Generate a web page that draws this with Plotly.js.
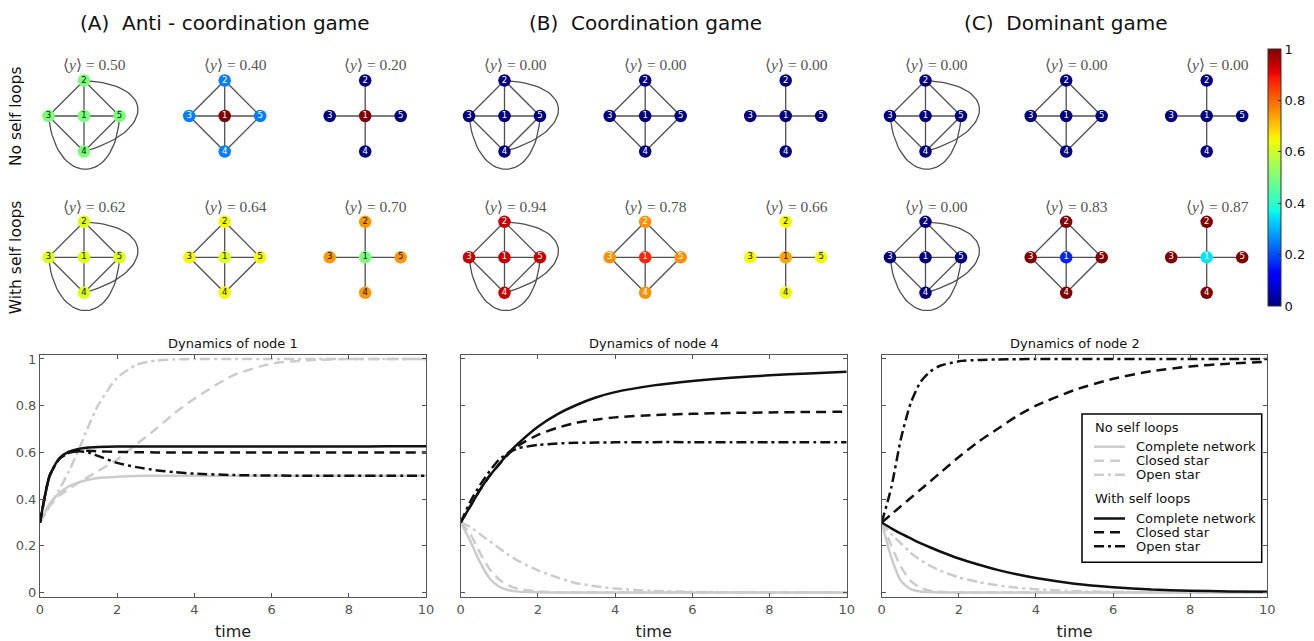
<!DOCTYPE html>
<html><head><meta charset="utf-8">
<script src="https://cdn.plot.ly/plotly-3.0.1.min.js"></script>
<style>html,body{margin:0;padding:0;background:#fff}#chart{width:1314px;height:641px}</style>
</head><body><div id="chart"></div>
<script>
// ================= DATA =================
const gameTitles = ['(A)  Anti - coordination game', '(B)  Coordination game', '(C)  Dominant game'];
const rowLabels = ['No self loops', 'With self loops'];
const networkNames = ['Complete network', 'Closed star', 'Open star'];
const legendGroups = ['No self loops', 'With self loops'];
const plotTitles = ['Dynamics of node 1', 'Dynamics of node 4', 'Dynamics of node 2'];
const nodeIds = [1, 2, 3, 4, 5];

const edgesComplete = [[1,2],[1,3],[1,4],[1,5],[2,3],[2,5],[3,4],[4,5],[2,4],[3,5]];
const edgesClosedStar = [[1,2],[1,3],[1,4],[1,5],[2,3],[2,5],[3,4],[4,5]];
const edgesOpenStar = [[1,2],[1,3],[1,4],[1,5]];

// node states, per network: [complete, closed star, open star], node order 1..5
const statesA_noSelf = [[0.5,0.5,0.5,0.5,0.5],[1,0.25,0.25,0.25,0.25],[1,0,0,0,0]];
const statesA_self   = [[0.62,0.62,0.62,0.62,0.62],[0.62,0.645,0.645,0.645,0.645],[0.5,0.75,0.75,0.75,0.75]];
const statesB_noSelf = [[0,0,0,0,0],[0,0,0,0,0],[0,0,0,0,0]];
const statesB_self   = [[0.94,0.94,0.94,0.94,0.94],[0.87,0.757,0.757,0.757,0.757],[0.735,0.645,0.645,0.645,0.645]];
const statesC_noSelf = [[0,0,0,0,0],[0,0,0,0,0],[0,0,0,0,0]];
const statesC_self   = [[0,0,0,0,0],[0.16,1,1,1,1],[0.35,1,1,1,1]];

const meanA_noSelf = ['0.50','0.40','0.20'];
const meanA_self   = ['0.62','0.64','0.70'];
const meanB_noSelf = ['0.00','0.00','0.00'];
const meanB_self   = ['0.94','0.78','0.66'];
const meanC_noSelf = ['0.00','0.00','0.00'];
const meanC_self   = ['0.00','0.83','0.87'];

const colorbarTicks = [0, 0.2, 0.4, 0.6, 0.8, 1];

// dynamics
const time = [0,0.25,0.5,0.75,1,1.25,1.5,2,2.5,3,3.5,4,5,6,7,8,9,10];
// node 1, anti-coordination
const A_noSelf_complete = [0.30,0.38,0.425,0.455,0.472,0.483,0.49,0.496,0.499,0.5,0.5,0.5,0.5,0.5,0.5,0.5,0.5,0.5];
const A_noSelf_closed   = [0.30,0.37,0.415,0.445,0.47,0.495,0.52,0.57,0.635,0.70,0.77,0.83,0.93,0.98,0.995,1,1,1];
const A_noSelf_open     = [0.30,0.37,0.44,0.52,0.61,0.71,0.80,0.92,0.975,0.993,0.998,1,1,1,1,1,1,1];
const A_self_complete   = [0.30,0.50,0.575,0.603,0.615,0.621,0.623,0.625,0.625,0.625,0.625,0.625,0.625,0.625,0.625,0.625,0.626,0.626];
const A_self_closed     = [0.30,0.50,0.572,0.598,0.607,0.607,0.605,0.602,0.601,0.600,0.600,0.600,0.600,0.600,0.600,0.600,0.600,0.600];
const A_self_open       = [0.30,0.50,0.572,0.598,0.605,0.60,0.585,0.555,0.537,0.524,0.515,0.509,0.503,0.501,0.5,0.5,0.5,0.5];
// node 4, coordination
const B_noSelf_complete = [0.30,0.22,0.13,0.06,0.025,0.01,0.004,0.001,0,0,0,0,0,0,0,0,0,0];
const B_noSelf_closed   = [0.30,0.25,0.17,0.10,0.055,0.03,0.015,0.005,0.001,0,0,0,0,0,0,0,0,0];
const B_noSelf_open     = [0.30,0.28,0.25,0.22,0.19,0.16,0.135,0.095,0.065,0.04,0.027,0.017,0.007,0.003,0.001,0,0,0];
const B_self_complete   = [0.30,0.37,0.44,0.50,0.55,0.60,0.64,0.71,0.763,0.803,0.835,0.858,0.887,0.906,0.92,0.93,0.938,0.945];
const B_self_closed     = [0.30,0.37,0.44,0.50,0.55,0.595,0.63,0.675,0.705,0.727,0.74,0.75,0.76,0.765,0.769,0.771,0.773,0.774];
const B_self_open       = [0.30,0.39,0.46,0.52,0.57,0.60,0.618,0.632,0.638,0.641,0.642,0.643,0.644,0.644,0.644,0.644,0.644,0.644];
// node 2, dominant
const C_noSelf_complete = [0.30,0.15,0.05,0.015,0.005,0.002,0,0,0,0,0,0,0,0,0,0,0,0];
const C_noSelf_closed   = [0.30,0.20,0.11,0.05,0.02,0.008,0.003,0,0,0,0,0,0,0,0,0,0,0];
const C_noSelf_open     = [0.30,0.25,0.21,0.17,0.14,0.115,0.095,0.065,0.045,0.031,0.021,0.014,0.006,0.003,0.001,0,0,0];
const C_self_complete   = [0.30,0.275,0.252,0.232,0.212,0.194,0.177,0.146,0.12,0.097,0.078,0.062,0.038,0.023,0.013,0.008,0.005,0.003];
const C_self_closed     = [0.30,0.335,0.37,0.405,0.44,0.475,0.51,0.58,0.645,0.70,0.755,0.80,0.867,0.915,0.948,0.968,0.98,0.988];
const C_self_open       = [0.30,0.45,0.66,0.81,0.90,0.945,0.97,0.99,0.996,0.998,0.999,1,1,1,1,1,1,1];

// ================= DRAWING =================
const W = 1314, H = 641;
const px = v => v / W;
const py = v => 1 - v / H;
const FONT = 'DejaVu Sans, Verdana, sans-serif';

const jet = [[0,'rgb(0,0,127)'],[0.11,'rgb(0,0,255)'],[0.125,'rgb(0,0,255)'],[0.34,'rgb(0,219,255)'],
  [0.35,'rgb(0,229,247)'],[0.375,'rgb(20,255,226)'],[0.64,'rgb(239,255,8)'],[0.65,'rgb(247,245,0)'],
  [0.66,'rgb(255,236,0)'],[0.89,'rgb(255,19,0)'],[0.91,'rgb(232,0,0)'],[1,'rgb(127,0,0)']];

// graph drawing layout (unit spacing)
const nodeLayout = {1:[0,0], 2:[0,1], 3:[-1,0], 4:[0,-1], 5:[1,0]};
const curvedEdgeCtrl = {'2-4': [[2.05,0.9],[2.0,-0.45]], '3-5': [[-0.8,-2.0],[0.9,-2.0]]};

const allStates = [[statesA_noSelf, statesA_self],[statesB_noSelf, statesB_self],[statesC_noSelf, statesC_self]];
const allMeans = [[meanA_noSelf, meanA_self],[meanB_noSelf, meanB_self],[meanC_noSelf, meanC_self]];
const edgeSets = [edgesComplete, edgesClosedStar, edgesOpenStar];

const panelCenters = [84, 504.5, 925.5];
const netOffsets = [0, 140.7, 281.2];
const rowCenters = [116, 257.3];
const half = 71; // px for 2 units

const data = [];
const layout = {
  width: W, height: H, margin: {l:0, r:0, t:0, b:0},
  paper_bgcolor: '#fff', plot_bgcolor: 'rgba(0,0,0,0)',
  font: {family: FONT, color: '#111'},
  showlegend: false,
  annotations: [], shapes: []
};
const axName = (k, a) => (k === 1 ? a + 'axis' : a + 'axis' + k);
const axRef = (k, a) => (k === 1 ? a : a + k);

let k = 0;
let firstNodes = true;
for (let p = 0; p < 3; p++) {
  for (let r = 0; r < 2; r++) {
    for (let n = 0; n < 3; n++) {
      k++;
      const cx = panelCenters[p] + netOffsets[n];
      const cy = rowCenters[r];
      layout[axName(k,'x')] = {domain: [px(cx - half), px(cx + half)], range: [-2, 2], visible: false, fixedrange: true};
      layout[axName(k,'y')] = {domain: [py(cy + half), py(cy - half)], range: [-2, 2], visible: false, fixedrange: true};
      // edges
      const ex = [], ey = [];
      edgeSets[n].forEach(([a, b]) => {
        const A = nodeLayout[a], B = nodeLayout[b];
        const key = a + '-' + b;
        if (n === 0 && curvedEdgeCtrl[key]) {
          const [c1, c2] = curvedEdgeCtrl[key];
          for (let i = 0; i <= 40; i++) {
            const t = i / 40, u = 1 - t;
            ex.push(u*u*u*A[0] + 3*u*u*t*c1[0] + 3*u*t*t*c2[0] + t*t*t*B[0]);
            ey.push(u*u*u*A[1] + 3*u*u*t*c1[1] + 3*u*t*t*c2[1] + t*t*t*B[1]);
          }
        } else {
          ex.push(A[0], B[0]); ey.push(A[1], B[1]);
        }
        ex.push(null); ey.push(null);
      });
      data.push({type: 'scatter', mode: 'lines', x: ex, y: ey, xaxis: axRef(k,'x'), yaxis: axRef(k,'y'),
        line: {color: '#505050', width: 1.3}, hoverinfo: 'skip', showlegend: false});
      // nodes
      const st = allStates[p][r][n];
      const marker = {size: 12.5, color: st, colorscale: jet, cmin: 0, cmax: 1, line: {width: 0}};
      if (firstNodes) {
        marker.showscale = true;
        marker.colorbar = {x: px(1268), xanchor: 'left', y: py(177.5), yanchor: 'middle',
          len: 257, lenmode: 'pixels', thickness: 13, thicknessmode: 'pixels', xpad: 0, ypad: 0,
          outlinecolor: '#333', outlinewidth: 1, tickvals: colorbarTicks, ticks: 'inside', ticklen: 3,
          tickcolor: '#333', tickfont: {size: 13, color: '#111', family: FONT}};
        firstNodes = false;
      }
      data.push({type: 'scatter', mode: 'markers+text', x: nodeIds.map(i => nodeLayout[i][0]), y: nodeIds.map(i => nodeLayout[i][1]),
        text: nodeIds.map(String), textposition: 'middle center', xaxis: axRef(k,'x'), yaxis: axRef(k,'y'),
        textfont: {size: 8.5, family: FONT, color: st.map(v => (v < 0.4 || v > 0.755) ? '#fff' : '#111')},
        marker: marker, hoverinfo: 'skip', showlegend: false, cliponaxis: false});
      layout.annotations.push({xref: axRef(k,'x'), yref: axRef(k,'y'), x: 0.3, y: 1.44, showarrow: false,
        text: '\u27E8<i>y</i>\u27E9 = ' + allMeans[p][r][n], font: {family: 'Liberation Serif, DejaVu Serif, serif', size: 15.5, color: '#555'}});
    }
  }
  layout.annotations.push({xref: 'paper', yref: 'paper', x: px(panelCenters[p] + netOffsets[1]), y: py(23),
    text: gameTitles[p], showarrow: false, font: {size: 20, color: '#111'}, xanchor: 'center', yanchor: 'middle'});
}
rowLabels.forEach((t, r) => layout.annotations.push({xref: 'paper', yref: 'paper', x: px(16), y: py(rowCenters[r]),
  text: t, textangle: -90, showarrow: false, font: {size: 15.5, color: '#111'}, xanchor: 'center', yanchor: 'middle'}));

// ---- dynamics plots ----
const dyn = [
  [A_noSelf_complete, A_noSelf_closed, A_noSelf_open, A_self_complete, A_self_closed, A_self_open],
  [B_noSelf_complete, B_noSelf_closed, B_noSelf_open, B_self_complete, B_self_closed, B_self_open],
  [C_noSelf_complete, C_noSelf_closed, C_noSelf_open, C_self_complete, C_self_closed, C_self_open]
];
const plotX = [[40, 426], [460.7, 846.7], [881.7, 1267.3]];
const dashes = ['solid', '10px,6px', '10px,4px,3px,4px'];
const lineColors = ['#cccccc', '#111111'];
for (let p = 0; p < 3; p++) {
  k++;
  layout[axName(k,'x')] = {domain: [px(plotX[p][0]), px(plotX[p][1])], range: [0, 10], dtick: 2, tick0: 0,
    showgrid: false, zeroline: false, showline: true, linecolor: '#555', linewidth: 1, mirror: 'ticks',
    ticks: 'inside', ticklen: 4, tickcolor: '#555', tickfont: {size: 13, color: '#555'},
    title: {text: 'time', font: {size: 16, color: '#222'}, standoff: 10}, fixedrange: true, automargin: false, anchor: axRef(k,'y')};
  layout[axName(k,'y')] = {domain: [py(597), py(355)], range: [-0.019, 1.017], tickvals: colorbarTicks,
    showgrid: false, zeroline: false, showline: true, linecolor: '#555', linewidth: 1, mirror: 'ticks',
    ticks: 'inside', ticklen: 4, tickcolor: '#555', tickfont: {size: 13, color: '#555'},
    showticklabels: p === 0, fixedrange: true, automargin: false, anchor: axRef(k,'x')};
  layout.annotations.push({xref: 'paper', yref: 'paper', x: px((plotX[p][0] + plotX[p][1]) / 2), y: py(343),
    text: plotTitles[p], showarrow: false, font: {size: 13, color: '#111'}, xanchor: 'center', yanchor: 'middle'});
  for (let s = 0; s < 6; s++) {
    const g = s >= 3 ? 1 : 0;
    data.push({type: 'scatter', mode: 'lines', x: time, y: dyn[p][s], xaxis: axRef(k,'x'), yaxis: axRef(k,'y'),
      name: legendGroups[g] + ' - ' + networkNames[s % 3],
      line: {color: lineColors[g], width: 2.5, dash: dashes[s % 3], shape: 'spline', smoothing: 0.6},
      hoverinfo: 'skip', showlegend: false});
  }
}

// ---- legend box (panel C) ----
const lgBox = {x0: 1082, x1: 1261.7, y0: 414, y1: 562.3};
layout.shapes.push({type: 'rect', xref: 'paper', yref: 'paper', x0: px(lgBox.x0), x1: px(lgBox.x1),
  y0: py(lgBox.y1), y1: py(lgBox.y0), fillcolor: '#fff', line: {color: '#000', width: 1.5}, layer: 'above'});
const groupTitleY = [427.7, 498.7];
const itemY = [[446.7, 460.7, 474.7], [518.5, 532.3, 546.3]];
legendGroups.forEach((gname, g) => {
  layout.annotations.push({xref: 'paper', yref: 'paper', x: px(1093), y: py(groupTitleY[g]), xanchor: 'left', yanchor: 'middle',
    text: gname, showarrow: false, font: {size: 13, color: '#111'}});
  networkNames.forEach((nm, s) => {
    layout.shapes.push({type: 'line', xref: 'paper', yref: 'paper', x0: px(1094), x1: px(1125),
      y0: py(itemY[g][s]), y1: py(itemY[g][s]), line: {color: lineColors[g], width: 2.5, dash: dashes[s]}, layer: 'above'});
    layout.annotations.push({xref: 'paper', yref: 'paper', x: px(1134), y: py(itemY[g][s]), xanchor: 'left', yanchor: 'middle',
      text: nm, showarrow: false, font: {size: 13, color: '#111'}});
  });
});

Plotly.newPlot('chart', data, layout, {staticPlot: true, displayModeBar: false});
</script>
</body></html>
